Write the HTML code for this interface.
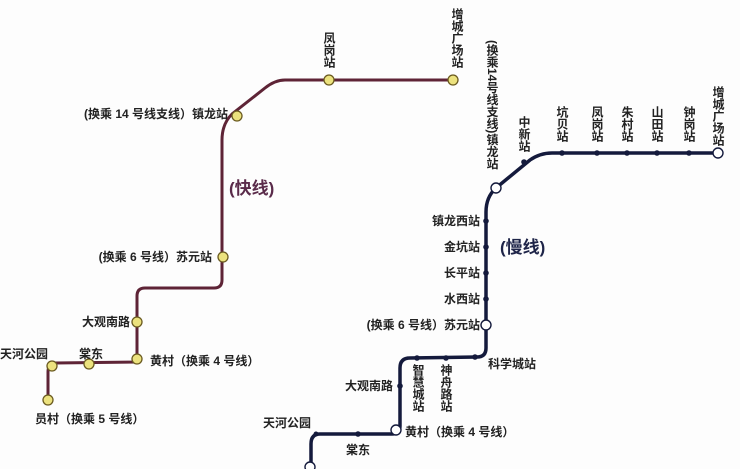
<!DOCTYPE html>
<html><head><meta charset="utf-8"><style>
html,body{margin:0;padding:0;background:#fdfdfd;}
svg{display:block}
text{font-family:"Liberation Sans","Noto Sans CJK SC",sans-serif;font-weight:bold;font-size:12px;fill:#222;}
.v{writing-mode:tb;}
</style></head><body>
<svg width="740" height="469" viewBox="0 0 740 469" xmlns="http://www.w3.org/2000/svg">
<!-- fast line -->
<path d="M453,80 L285,80 Q275,80 265,88 L232,114 Q222,124 222,140 L222,280 Q222,288 214,288 L145,288 Q137,288 137,296 L137,362 L55,363 Q48,364 48,372 L48,400" fill="none" stroke="#5e2436" stroke-width="3"/>
<g fill="#ece27e" stroke="#6a5a20" stroke-width="1.3">
<circle cx="453" cy="80" r="5"/><circle cx="329" cy="80" r="5"/><circle cx="237" cy="116" r="5"/>
<circle cx="223" cy="257" r="5"/><circle cx="137" cy="322" r="5"/><circle cx="137" cy="359" r="5"/>
<circle cx="89" cy="364" r="5"/><circle cx="52" cy="366" r="5"/><circle cx="48" cy="400" r="5"/>
</g>
<text class="v" x="329" y="32">凤岗站</text>
<text class="v" x="457" y="8">增城广场站</text>
<text x="228" y="118" text-anchor="end">(换乘 14 号线支线）镇龙站</text>
<text x="229" y="194" style="font-size:17px;fill:#5a2b4a">(快线)</text>
<text x="212" y="261" text-anchor="end">(换乘 6 号线）苏元站</text>
<text x="130" y="326" text-anchor="end">大观南路</text>
<text x="150" y="365">黄村（换乘 4 号线）</text>
<text x="0" y="358">天河公园</text>
<text x="79" y="358">棠东</text>
<text x="35" y="423">员村（换乘 5 号线）</text>
<!-- slow line -->
<path d="M718,153 L552,153 Q540,153 530,160 L496,188 Q486,197 486,212 L486,348 Q486,357 477,357 L410,358 Q400,358 400,368 L400,426 Q400,434 392,434 L320,434 Q311,434 311,444 L311,469" fill="none" stroke="#141a3c" stroke-width="3.5"/>
<g fill="#141a3c">
<circle cx="689" cy="153" r="2.8"/><circle cx="657" cy="153" r="2.8"/><circle cx="627" cy="153" r="2.8"/>
<circle cx="597" cy="153" r="2.8"/><circle cx="562" cy="153" r="2.8"/><circle cx="524" cy="162" r="2.8"/>
<circle cx="486" cy="221" r="2.8"/><circle cx="486" cy="247" r="2.8"/><circle cx="486" cy="273" r="2.8"/>
<circle cx="486" cy="299" r="2.8"/><circle cx="475" cy="357" r="2.8"/><circle cx="446" cy="358" r="2.8"/>
<circle cx="417" cy="358" r="2.8"/><circle cx="400" cy="386" r="2.8"/><circle cx="358" cy="434" r="2.8"/>
<circle cx="316" cy="434" r="2.5"/>
</g>
<g fill="#fff" stroke="#141a3c" stroke-width="1.4">
<circle cx="718" cy="153" r="5"/><circle cx="496" cy="188" r="5"/><circle cx="486" cy="325" r="5"/>
<circle cx="396" cy="430" r="5"/><circle cx="310" cy="467" r="5"/>
</g>
<text class="v" x="492" y="40">(换乘<tspan style="text-combine-upright:all">14</tspan>号线支线)镇龙站</text>
<text class="v" x="524" y="116">中新站</text>
<text class="v" x="562" y="106">坑贝站</text>
<text class="v" x="597" y="106">凤岗站</text>
<text class="v" x="627" y="106">朱村站</text>
<text class="v" x="657" y="106">山田站</text>
<text class="v" x="689" y="106">钟岗站</text>
<text class="v" x="718" y="86">增城广场站</text>
<text x="480" y="225" text-anchor="end">镇龙西站</text>
<text x="480" y="251" text-anchor="end">金坑站</text>
<text x="480" y="277" text-anchor="end">长平站</text>
<text x="480" y="303" text-anchor="end">水西站</text>
<text x="480" y="329" text-anchor="end">(换乘 6 号线）苏元站</text>
<text x="500" y="253" style="font-size:17px;fill:#1e2448">(慢线)</text>
<text x="488" y="368">科学城站</text>
<text class="v" x="418" y="364">智慧城站</text>
<text class="v" x="446" y="364">神舟路站</text>
<text x="393" y="390" text-anchor="end">大观南路</text>
<text x="405" y="436">黄村（换乘 4 号线）</text>
<text x="263" y="427">天河公园</text>
<text x="346" y="454">棠东</text>
</svg>
</body></html>
